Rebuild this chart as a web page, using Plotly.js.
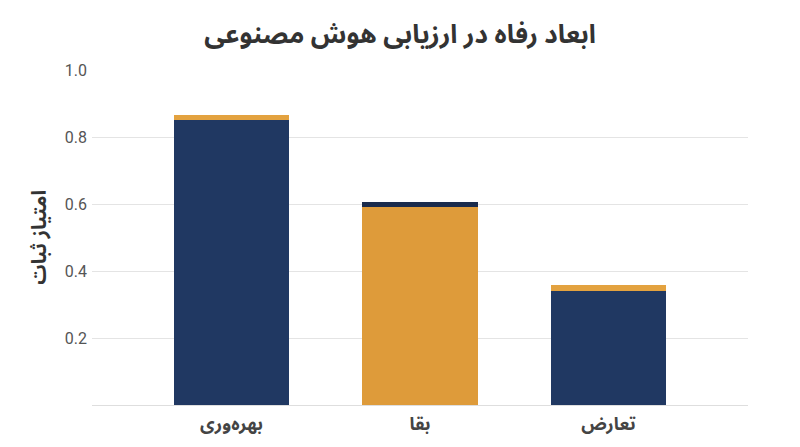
<!DOCTYPE html>
<html>
<head>
<meta charset="utf-8">
<script src="https://cdn.plot.ly/plotly-3.0.1.min.js"></script>
<style>
html,body{margin:0;padding:0;background:#fff;}
#chart{width:800px;height:447px;}
</style>
</head>
<body>
<div id="chart"></div>
<script>
// Data
var categories = ['بهره‌وری', 'بقا', 'تعارض'];
var mainValues = [0.85, 0.59, 0.34];
var capValues = [0.017, 0.017, 0.017];
var mainColors = ['#203862', '#de9b3a', '#203862'];
var capColors = ['#e3a23f', '#1a2b4c', '#e3a23f'];
var yTickVals = [0.2, 0.4, 0.6, 0.8, 1.0];
var yTickText = ['0.2', '0.4', '0.6', '0.8', '1.0'];

var FONT = "Roboto, 'Noto Sans Arabic', 'DejaVu Sans', sans-serif";

var traces = [
  {
    type: 'bar',
    x: categories,
    y: mainValues,
    width: 0.615,
    marker: {color: mainColors, line: {width: 0}},
    hoverinfo: 'none'
  },
  {
    type: 'bar',
    x: categories,
    y: capValues,
    width: 0.615,
    marker: {color: capColors, line: {width: 0}},
    hoverinfo: 'none'
  }
];

var layout = {
  width: 800,
  height: 447,
  margin: {l: 92, r: 52, t: 70, b: 42},
  paper_bgcolor: '#ffffff',
  plot_bgcolor: '#ffffff',
  barmode: 'stack',
  showlegend: false,
  font: {family: FONT, color: '#444'},
  title: {
    text: 'ابعاد رفاه در ارزیابی هوش مصنوعی',
    font: {family: FONT, size: 26, color: '#333', weight: 'bold'},
    x: 0.5,
    xanchor: 'center',
    y: 0.925,
    yanchor: 'middle'
  },
  xaxis: {
    type: 'category',
    range: [-0.74, 2.74],
    showgrid: false,
    showline: true,
    linecolor: '#dedede',
    linewidth: 1,
    ticks: '',
    tickfont: {family: FONT, size: 18, color: '#444', weight: 'bold'},
    ticklabelstandoff: 2,
    fixedrange: true
  },
  yaxis: {
    range: [0, 1.0],
    tickvals: yTickVals,
    ticktext: yTickText,
    showgrid: true,
    gridcolor: '#e4e4e4',
    gridwidth: 1,
    zeroline: false,
    showline: false,
    ticks: '',
    tickfont: {family: FONT, size: 16, color: '#555'},
    ticklabelstandoff: 4,
    title: {
      text: 'امتیاز ثبات',
      font: {family: FONT, size: 20, color: '#333', weight: 'bold'},
      standoff: 12
    },
    fixedrange: true
  }
};

Plotly.newPlot('chart', traces, layout, {displayModeBar: false, staticPlot: true});
</script>
</body>
</html>
